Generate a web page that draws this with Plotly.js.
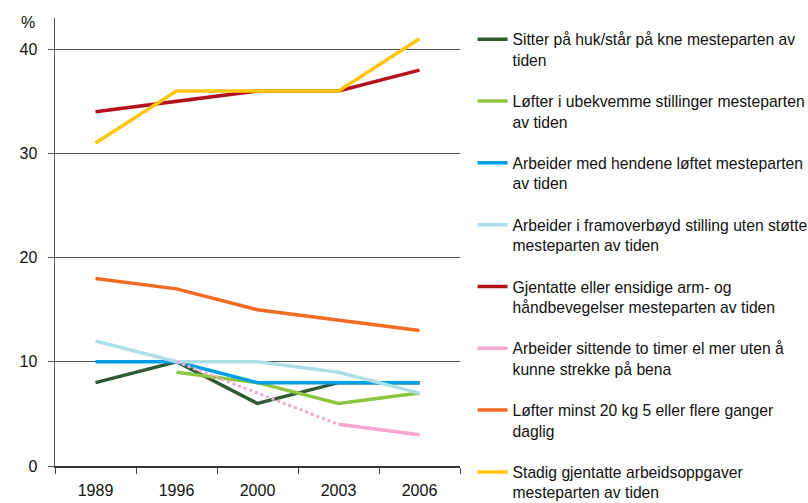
<!DOCTYPE html>
<html>
<head>
<meta charset="utf-8">
<script src="https://cdn.plot.ly/plotly-3.0.1.min.js"></script>
<style>html,body{margin:0;padding:0;background:#fff;}#chart{width:808px;height:503px;}</style>
</head>
<body>
<div id="chart"></div>
<script>
const years = ["1989", "1996", "2000", "2003", "2006"];
const yTicks = [0, 10, 20, 30, 40];

const sitterHuk = [8, 10, 6, 8, 8];
const lofterUbekvemme = [null, 9, 8, 6, 7];
const hendeneLoftet = [10, 10, 8, 8, 8];
const framoverboyd = [12, 10, 10, 9, 7];
const gjentatteArm = [34, 35, 36, 36, 38];
const sittendeToTimer = [null, 10, null, 4, 3];
const lofter20kg = [18, 17, 15, 14, 13];
const stadigGjentatte = [31, 36, 36, 36, 41];

const names = [
  "Sitter på huk/står på kne mesteparten av<br>tiden",
  "Løfter i ubekvemme stillinger mesteparten<br>av tiden",
  "Arbeider med hendene løftet mesteparten<br>av tiden",
  "Arbeider i framoverbøyd stilling uten støtte<br>mesteparten av tiden",
  "Gjentatte eller ensidige arm- og<br>håndbevegelser mesteparten av tiden",
  "Arbeider sittende to timer el mer uten å<br>kunne strekke på bena",
  "Løfter minst 20 kg 5 eller flere ganger<br>daglig",
  "Stadig gjentatte arbeidsoppgaver<br>mesteparten av tiden"
];
const series = [sitterHuk, lofterUbekvemme, hendeneLoftet, framoverboyd, gjentatteArm, sittendeToTimer, lofter20kg, stadigGjentatte];
const colors = ["#2e5b33", "#8cc63f", "#009fe3", "#addde5", "#b3121c", "#f5a8cf", "#f26b22", "#fec60c"];

const traces = [];
series.forEach((vals, i) => {
  if (i === 5) {
    traces.push({
      x: years, y: vals, type: "scatter", mode: "lines",
      line: {color: colors[i], width: 3, dash: "dot"},
      connectgaps: true, showlegend: false, legendgroup: "g" + i, hoverinfo: "skip"
    });
  }
  traces.push({
    x: years, y: vals, type: "scatter", mode: "lines", name: names[i],
    line: {color: colors[i], width: 3.5},
    connectgaps: false, legendgroup: "g" + i
  });
});

const layout = {
  width: 808, height: 503,
  margin: {l: 55, r: 348, t: 18, b: 37, autoexpand: false},
  paper_bgcolor: "#fff", plot_bgcolor: "#fff",
  font: {family: "Liberation Sans, Arial, sans-serif", size: 16, color: "#111"},
  showlegend: true,
  legend: {
    x: 1.031, y: 0.99, xanchor: "left", yanchor: "top",
    valign: "top", traceorder: "grouped", tracegroupgap: 18,
    maxheight: 1000,
    font: {family: "Liberation Sans, Arial, sans-serif", size: 15.7, color: "#111"},
    bgcolor: "rgba(0,0,0,0)", itemwidth: 30
  },
  xaxis: {
    type: "category", categoryorder: "array", categoryarray: years,
    range: [-0.5, 4.5],
    showgrid: false, showline: true, linecolor: "#333", linewidth: 1.5,
    ticks: "outside", tickson: "boundaries", ticklen: 6, tickcolor: "#444",
    ticklabelstandoff: 9,
    tickfont: {size: 16, color: "#111"}, zeroline: false, fixedrange: true
  },
  yaxis: {
    range: [0, 43], tickvals: yTicks, ticktext: yTicks.map(String),
    showgrid: true, gridcolor: "#555", gridwidth: 1,
    showline: true, linecolor: "#555", linewidth: 1.5,
    ticks: "outside", ticklen: 6, tickcolor: "#555",
    ticklabelstandoff: 7,
    tickfont: {size: 16, color: "#111"}, zeroline: false, fixedrange: true
  },
  annotations: [{
    text: "%", xref: "paper", yref: "y", x: 0, y: 42.6,
    xanchor: "right", yanchor: "middle", xshift: -18, showarrow: false,
    font: {size: 16, color: "#111"}
  }]
};

Plotly.newPlot("chart", traces, layout, {displayModeBar: false, staticPlot: true});
</script>
</body>
</html>
